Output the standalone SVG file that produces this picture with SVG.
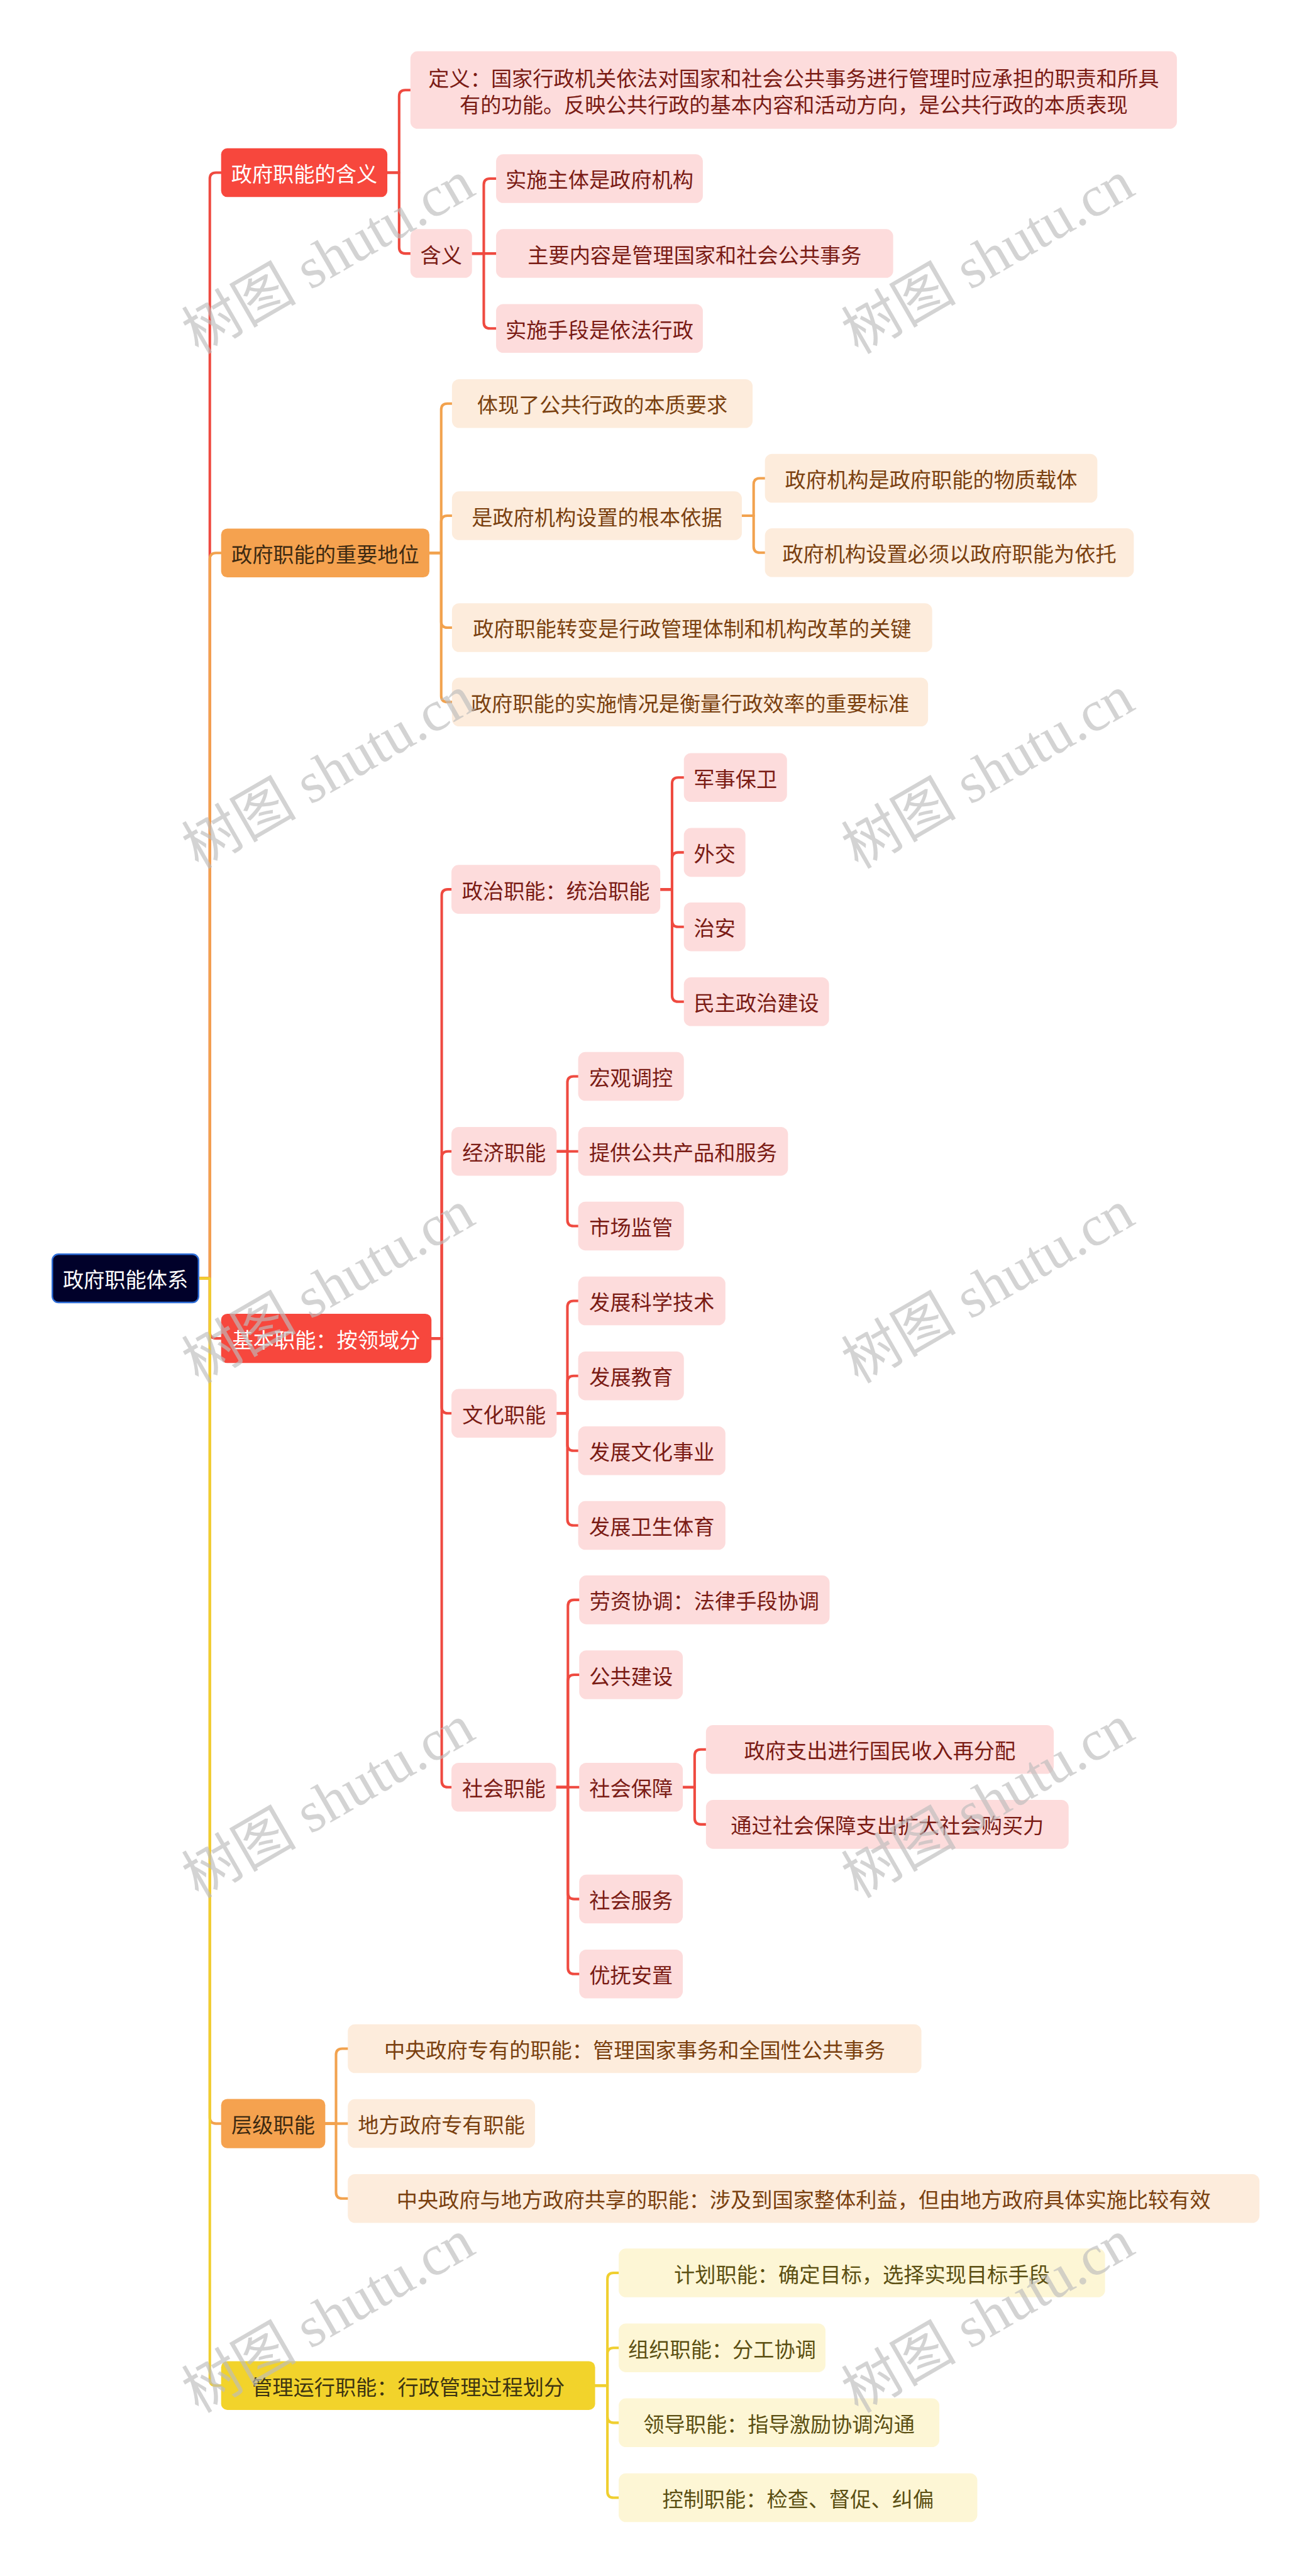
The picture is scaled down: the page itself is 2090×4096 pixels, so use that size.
<svg xmlns="http://www.w3.org/2000/svg" width="2090" height="4096" viewBox="0 0 2090 4096">
<style>
.t{font-family:"Noto Sans CJK SC","Noto Sans",sans-serif;font-size:40.7px;text-anchor:middle;dominant-baseline:central}
.tw{fill:#ffffff}
.tr{fill:#7a1b14}
.to{fill:#7a400f}
.ty{fill:#5b4f12}
.tob{fill:#3d2a12}
.tyb{fill:#3e3512}
.l1r{fill:#f7473d}
.l1o{fill:#f5a24f}
.l1y{fill:#f2d32b}
.lr{fill:#fddcdc}
.lo{fill:#fdecdc}
.ly{fill:#fdf6d5}
.cr{stroke:#ef4a40}
.co{stroke:#f2a24e}
.cy{stroke:#f0cf2f}
.wm{font-family:"Liberation Serif","Noto Sans CJK SC",serif;font-size:112px;fill:#bdbdbd;opacity:.65;text-anchor:middle;dominant-baseline:central}
</style>
<rect width="2090" height="4096" fill="#ffffff"/>
<g transform="scale(0.816)">
<g id="connectors" fill="none" stroke-width="5" stroke-linecap="round" stroke-linejoin="round">
<path class="cr" d="M387 2491H409V348.5Q409 336.5 421 336.5H431"/>
<path class="co" d="M387 2491H409V1089.5Q409 1077.5 421 1077.5H431"/>
<path class="cr" d="M387 2491H409V2596Q409 2608 421 2608H431"/>
<path class="co" d="M387 2491H409V4126Q409 4138 421 4138H431"/>
<path class="cy" d="M387 2491H409V4636.5Q409 4648.5 421 4648.5H431"/>
<path class="cr" d="M755 336.5H778V187.5Q778 175.5 790 175.5H800"/>
<path class="cr" d="M755 336.5H778V482Q778 494 790 494H800"/>
<path class="cr" d="M920 494H943V360Q943 348 955 348H967"/>
<path class="cr" d="M920 494H967"/>
<path class="cr" d="M920 494H943V628Q943 640 955 640H967"/>
<path class="co" d="M837 1077.5H860V798.5Q860 786.5 872 786.5H881"/>
<path class="co" d="M837 1077.5H860V1017Q860 1005 872 1005H881"/>
<path class="co" d="M837 1077.5H860V1211Q860 1223 872 1223H881"/>
<path class="co" d="M837 1077.5H860V1356Q860 1368 872 1368H881"/>
<path class="co" d="M1446 1005H1469V944Q1469 932 1481 932H1491"/>
<path class="co" d="M1446 1005H1469V1065Q1469 1077 1481 1077H1491"/>
<path class="cr" d="M841 2608H861V1745Q861 1733 873 1733H880"/>
<path class="cr" d="M841 2608H861V2255.5Q861 2243.5 873 2243.5H880"/>
<path class="cr" d="M841 2608H861V2742Q861 2754 873 2754H880"/>
<path class="cr" d="M841 2608H861V3470.5Q861 3482.5 873 3482.5H880"/>
<path class="cr" d="M1287 1733H1310V1527Q1310 1515 1322 1515H1333"/>
<path class="cr" d="M1287 1733H1310V1673Q1310 1661 1322 1661H1333"/>
<path class="cr" d="M1287 1733H1310V1794Q1310 1806 1322 1806H1333"/>
<path class="cr" d="M1287 1733H1310V1940Q1310 1952 1322 1952H1333"/>
<path class="cr" d="M1085 2243.5H1106V2109.5Q1106 2097.5 1118 2097.5H1127"/>
<path class="cr" d="M1085 2243.5H1127"/>
<path class="cr" d="M1085 2243.5H1106V2377Q1106 2389 1118 2389H1127"/>
<path class="cr" d="M1085 2754H1106V2547Q1106 2535 1118 2535H1127"/>
<path class="cr" d="M1085 2754H1106V2693Q1106 2681 1118 2681H1127"/>
<path class="cr" d="M1085 2754H1106V2815Q1106 2827 1118 2827H1127"/>
<path class="cr" d="M1085 2754H1106V2960.5Q1106 2972.5 1118 2972.5H1127"/>
<path class="cr" d="M1084 3482.5H1107V3129.5Q1107 3117.5 1119 3117.5H1129"/>
<path class="cr" d="M1084 3482.5H1107V3275.5Q1107 3263.5 1119 3263.5H1129"/>
<path class="cr" d="M1084 3482.5H1129"/>
<path class="cr" d="M1084 3482.5H1107V3688.5Q1107 3700.5 1119 3700.5H1129"/>
<path class="cr" d="M1084 3482.5H1107V3834.5Q1107 3846.5 1119 3846.5H1129"/>
<path class="cr" d="M1331 3482.5H1354V3421Q1354 3409 1366 3409H1376"/>
<path class="cr" d="M1331 3482.5H1354V3543Q1354 3555 1366 3555H1376"/>
<path class="co" d="M634 4138H655V4004Q655 3992 667 3992H678"/>
<path class="co" d="M634 4138H678"/>
<path class="co" d="M634 4138H655V4272Q655 4284 667 4284H678"/>
<path class="cy" d="M1160 4648.5H1184V4441Q1184 4429 1196 4429H1206"/>
<path class="cy" d="M1160 4648.5H1184V4587Q1184 4575 1196 4575H1206"/>
<path class="cy" d="M1160 4648.5H1184V4709Q1184 4721 1196 4721H1206"/>
<path class="cy" d="M1160 4648.5H1184V4855Q1184 4867 1196 4867H1206"/>
</g>
<g id="root"><rect x="102" y="2444" width="285" height="94" rx="12" fill="#01012a" stroke="#2f6ed8" stroke-width="3"/><text class="t tw" x="244.5" y="2491">政府职能体系</text></g>
<g id="n1"><rect class="l1r" x="431" y="289" width="324" height="95" rx="12"/><text class="t tw" x="593" y="336.5">政府职能的含义</text></g>
<g id="n1a"><rect class="lr" x="800" y="100" width="1494" height="151" rx="14"/><text class="t tr" x="1547" y="150">定义：国家行政机关依法对国家和社会公共事务进行管理时应承担的职责和所具</text><text class="t tr" x="1547" y="202">有的功能。反映公共行政的基本内容和活动方向，是公共行政的本质表现</text></g>
<g id="n1b"><rect class="lr" x="800" y="446.5" width="120" height="95" rx="14"/><text class="t tr" x="860" y="494">含义</text></g>
<g id="n1b1"><rect class="lr" x="967" y="300.5" width="403" height="95" rx="14"/><text class="t tr" x="1168.5" y="348">实施主体是政府机构</text></g>
<g id="n1b2"><rect class="lr" x="967" y="446.5" width="774" height="95" rx="14"/><text class="t tr" x="1354" y="494">主要内容是管理国家和社会公共事务</text></g>
<g id="n1b3"><rect class="lr" x="967" y="592.5" width="403" height="95" rx="14"/><text class="t tr" x="1168.5" y="640">实施手段是依法行政</text></g>
<g id="n2"><rect class="l1o" x="431" y="1030" width="406" height="95" rx="12"/><text class="t tob" x="634" y="1077.5">政府职能的重要地位</text></g>
<g id="n2a"><rect class="lo" x="881" y="739" width="586" height="95" rx="14"/><text class="t to" x="1174" y="786.5">体现了公共行政的本质要求</text></g>
<g id="n2b"><rect class="lo" x="881" y="957.5" width="565" height="95" rx="14"/><text class="t to" x="1163.5" y="1005">是政府机构设置的根本依据</text></g>
<g id="n2b1"><rect class="lo" x="1491" y="884.5" width="648" height="95" rx="14"/><text class="t to" x="1815" y="932">政府机构是政府职能的物质载体</text></g>
<g id="n2b2"><rect class="lo" x="1491" y="1029.5" width="719" height="95" rx="14"/><text class="t to" x="1850.5" y="1077">政府机构设置必须以政府职能为依托</text></g>
<g id="n2c"><rect class="lo" x="881" y="1175.5" width="936" height="95" rx="14"/><text class="t to" x="1349" y="1223">政府职能转变是行政管理体制和机构改革的关键</text></g>
<g id="n2d"><rect class="lo" x="881" y="1320.5" width="928" height="95" rx="14"/><text class="t to" x="1345" y="1368">政府职能的实施情况是衡量行政效率的重要标准</text></g>
<g id="n3"><rect class="l1r" x="431" y="2560" width="410" height="96" rx="12"/><text class="t tw" x="636" y="2608">基本职能：按领域分</text></g>
<g id="n3a"><rect class="lr" x="880" y="1685.5" width="407" height="95" rx="14"/><text class="t tr" x="1083.5" y="1733">政治职能：统治职能</text></g>
<g id="n3a1"><rect class="lr" x="1333" y="1467.5" width="201" height="95" rx="14"/><text class="t tr" x="1433.5" y="1515">军事保卫</text></g>
<g id="n3a2"><rect class="lr" x="1333" y="1613.5" width="120" height="95" rx="14"/><text class="t tr" x="1393" y="1661">外交</text></g>
<g id="n3a3"><rect class="lr" x="1333" y="1758.5" width="120" height="95" rx="14"/><text class="t tr" x="1393" y="1806">治安</text></g>
<g id="n3a4"><rect class="lr" x="1333" y="1904.5" width="283" height="95" rx="14"/><text class="t tr" x="1474.5" y="1952">民主政治建设</text></g>
<g id="n3b"><rect class="lr" x="880" y="2196" width="205" height="95" rx="14"/><text class="t tr" x="982.5" y="2243.5">经济职能</text></g>
<g id="n3b1"><rect class="lr" x="1127" y="2050" width="206" height="95" rx="14"/><text class="t tr" x="1230" y="2097.5">宏观调控</text></g>
<g id="n3b2"><rect class="lr" x="1127" y="2196" width="409" height="95" rx="14"/><text class="t tr" x="1331.5" y="2243.5">提供公共产品和服务</text></g>
<g id="n3b3"><rect class="lr" x="1127" y="2341.5" width="206" height="95" rx="14"/><text class="t tr" x="1230" y="2389">市场监管</text></g>
<g id="n3c"><rect class="lr" x="880" y="2706.5" width="205" height="95" rx="14"/><text class="t tr" x="982.5" y="2754">文化职能</text></g>
<g id="n3c1"><rect class="lr" x="1127" y="2487.5" width="287" height="95" rx="14"/><text class="t tr" x="1270.5" y="2535">发展科学技术</text></g>
<g id="n3c2"><rect class="lr" x="1127" y="2633.5" width="206" height="95" rx="14"/><text class="t tr" x="1230" y="2681">发展教育</text></g>
<g id="n3c3"><rect class="lr" x="1127" y="2779.5" width="287" height="95" rx="14"/><text class="t tr" x="1270.5" y="2827">发展文化事业</text></g>
<g id="n3c4"><rect class="lr" x="1127" y="2925" width="287" height="95" rx="14"/><text class="t tr" x="1270.5" y="2972.5">发展卫生体育</text></g>
<g id="n3d"><rect class="lr" x="880" y="3435" width="204" height="95" rx="14"/><text class="t tr" x="982" y="3482.5">社会职能</text></g>
<g id="n3d1"><rect class="lr" x="1129" y="3070" width="488" height="95" rx="14"/><text class="t tr" x="1373" y="3117.5">劳资协调：法律手段协调</text></g>
<g id="n3d2"><rect class="lr" x="1129" y="3216" width="202" height="95" rx="14"/><text class="t tr" x="1230" y="3263.5">公共建设</text></g>
<g id="n3d3"><rect class="lr" x="1129" y="3435" width="202" height="95" rx="14"/><text class="t tr" x="1230" y="3482.5">社会保障</text></g>
<g id="n3d3a"><rect class="lr" x="1376" y="3361.5" width="678" height="95" rx="14"/><text class="t tr" x="1715" y="3409">政府支出进行国民收入再分配</text></g>
<g id="n3d3b"><rect class="lr" x="1376" y="3507.5" width="707" height="95" rx="14"/><text class="t tr" x="1729.5" y="3555">通过社会保障支出扩大社会购买力</text></g>
<g id="n3d4"><rect class="lr" x="1129" y="3653" width="202" height="95" rx="14"/><text class="t tr" x="1230" y="3700.5">社会服务</text></g>
<g id="n3d5"><rect class="lr" x="1129" y="3799" width="202" height="95" rx="14"/><text class="t tr" x="1230" y="3846.5">优抚安置</text></g>
<g id="n4"><rect class="l1o" x="431" y="4090" width="203" height="96" rx="12"/><text class="t tob" x="532.5" y="4138">层级职能</text></g>
<g id="n4a"><rect class="lo" x="678" y="3944.5" width="1118" height="95" rx="14"/><text class="t to" x="1237" y="3992">中央政府专有的职能：管理国家事务和全国性公共事务</text></g>
<g id="n4b"><rect class="lo" x="678" y="4090.5" width="365" height="95" rx="14"/><text class="t to" x="860.5" y="4138">地方政府专有职能</text></g>
<g id="n4c"><rect class="lo" x="678" y="4236.5" width="1777" height="95" rx="14"/><text class="t to" x="1566.5" y="4284">中央政府与地方政府共享的职能：涉及到国家整体利益，但由地方政府具体实施比较有效</text></g>
<g id="n5"><rect class="l1y" x="431" y="4601" width="729" height="95" rx="12"/><text class="t tyb" x="795.5" y="4648.5">管理运行职能：行政管理过程划分</text></g>
<g id="n5a"><rect class="ly" x="1206" y="4381.5" width="948" height="95" rx="14"/><text class="t ty" x="1680" y="4429">计划职能：确定目标，选择实现目标手段</text></g>
<g id="n5b"><rect class="ly" x="1206" y="4527.5" width="403" height="95" rx="14"/><text class="t ty" x="1407.5" y="4575">组织职能：分工协调</text></g>
<g id="n5c"><rect class="ly" x="1206" y="4673.5" width="625" height="95" rx="14"/><text class="t ty" x="1518.5" y="4721">领导职能：指导激励协调沟通</text></g>
<g id="n5d"><rect class="ly" x="1206" y="4819.5" width="699" height="95" rx="14"/><text class="t ty" x="1555.5" y="4867">控制职能：检查、督促、纠偏</text></g>
<g id="watermarks">
<text class="wm" x="640" y="502" transform="rotate(-30 640 502)">树图 shutu.cn</text>
<text class="wm" x="1926" y="502" transform="rotate(-30 1926 502)">树图 shutu.cn</text>
<text class="wm" x="640" y="1505" transform="rotate(-30 640 1505)">树图 shutu.cn</text>
<text class="wm" x="1926" y="1505" transform="rotate(-30 1926 1505)">树图 shutu.cn</text>
<text class="wm" x="640" y="2508" transform="rotate(-30 640 2508)">树图 shutu.cn</text>
<text class="wm" x="1926" y="2508" transform="rotate(-30 1926 2508)">树图 shutu.cn</text>
<text class="wm" x="640" y="3511" transform="rotate(-30 640 3511)">树图 shutu.cn</text>
<text class="wm" x="1926" y="3511" transform="rotate(-30 1926 3511)">树图 shutu.cn</text>
<text class="wm" x="640" y="4514" transform="rotate(-30 640 4514)">树图 shutu.cn</text>
<text class="wm" x="1926" y="4514" transform="rotate(-30 1926 4514)">树图 shutu.cn</text>
</g>
</g>
</svg>
